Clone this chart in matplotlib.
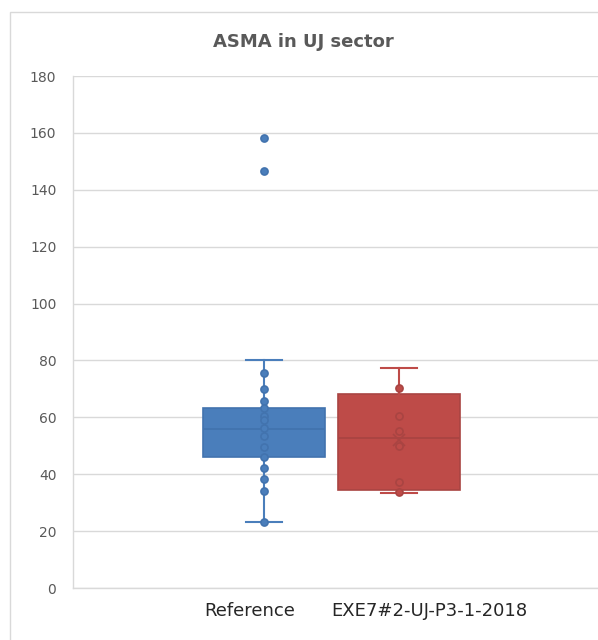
import matplotlib
matplotlib.use("Agg")
import matplotlib.pyplot as plt
from matplotlib.patches import Rectangle

title = "ASMA in UJ sector"
categories = ["Reference", "EXE7#2-UJ-P3-1-2018"]

# box statistics
q1 = [46.0, 34.5]
med = [55.8, 52.6]
q3 = [63.2, 68.1]
whislo = [23.2, 33.5]
whishi = [80.0, 77.4]
means = [None, 52.0]

# individual data points
ref_points = [158.2, 146.7, 75.7, 69.8, 65.7, 63.4, 60.5, 59.0, 56.4, 53.4,
              49.4, 45.9, 42.3, 38.2, 34.2, 23.1]
exe_points = [70.4, 60.5, 55.2, 49.9, 37.3, 33.6]
points = [ref_points, exe_points]

yticks = [0, 20, 40, 60, 80, 100, 120, 140, 160, 180]

fill = ["#4A7EBB", "#BE4B48"]
edge = ["#4273AE", "#A94442"]

fig = plt.figure(figsize=(5.98, 6.4), dpi=100)
W, H = 598, 640
ax = fig.add_axes([73 / W, 1 - 588 / H, 1 - 73 / W, (588 - 76) / H])

# chart border
fig.patches.append(Rectangle((10 / W, -0.1), 1.2, 1 - 12 / H + 0.1,
                             transform=fig.transFigure, fill=False,
                             edgecolor="#D9D9D9", linewidth=1.0))

positions = [(264 - 73) / 525, (399 - 73) / 525]
width = 0.233

for i in range(2):
    st = dict(q1=q1[i], med=med[i], q3=q3[i], whislo=whislo[i], whishi=whishi[i],
              fliers=[], label=categories[i])
    if means[i] is not None:
        st["mean"] = means[i]
    ax.bxp([st], positions=[positions[i]], widths=width, patch_artist=True,
           showmeans=means[i] is not None, showfliers=False,
           boxprops=dict(facecolor=fill[i], edgecolor=edge[i], linewidth=1.2),
           medianprops=dict(color=edge[i], linewidth=1.3),
           whiskerprops=dict(color=fill[i], linewidth=1.5),
           capprops=dict(color=fill[i], linewidth=1.5),
           capwidths=0.069,
           meanprops=dict(marker="x", markeredgecolor=edge[i], markersize=8,
                          markeredgewidth=1.2),
           zorder=2)
    ax.scatter([positions[i]] * len(points[i]), points[i], s=26,
               facecolor=fill[i], edgecolor=edge[i], linewidth=1.2, zorder=3)

ax.set_ylim(0, 180)
ax.set_xlim(0, 1)
ax.set_yticks(yticks)
ax.yaxis.grid(True, color="#D9D9D9", linewidth=1.0)
ax.set_axisbelow(True)
ax.tick_params(axis="y", length=0, labelsize=10, labelcolor="#595959", pad=12)
ax.set_xticks([(250 - 73) / 525, (429 - 73) / 525])
ax.set_xticklabels(categories)
ax.tick_params(axis="x", length=0, labelsize=13, labelcolor="#262626", pad=10)
for s in ["top", "right"]:
    ax.spines[s].set_visible(False)
for s in ["left", "bottom"]:
    ax.spines[s].set_color("#D9D9D9")
    ax.spines[s].set_linewidth(1.0)

fig.text(303 / W, 1 - 42 / H, title, ha="center", va="center", fontsize=13,
         fontweight="bold", color="#595959")

fig.savefig("out.png", dpi=100)
